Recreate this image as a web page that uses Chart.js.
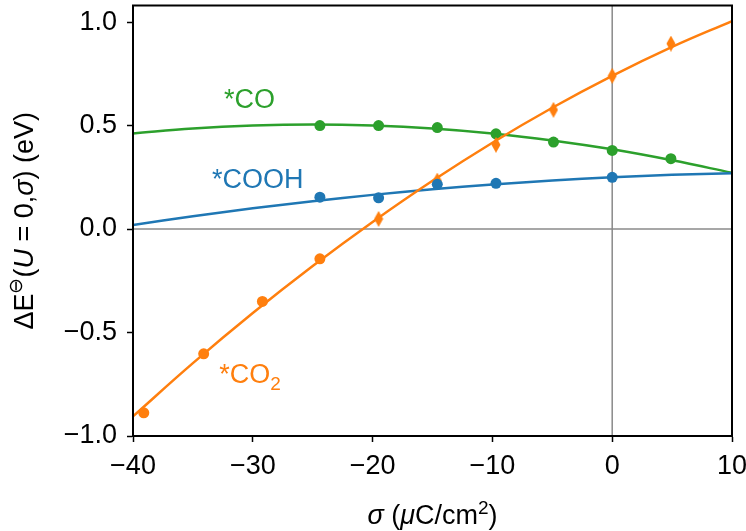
<!DOCTYPE html>
<html>
<head>
<meta charset="utf-8">
<script src="https://cdn.jsdelivr.net/npm/chart.js@4.4.1/dist/chart.umd.min.js"></script>
<style>
  body { margin: 0; background: #fff; }
  canvas { display: block; }
</style>
</head>
<body>
<canvas id="dE" width="746" height="531"></canvas>
<script>
// computed points (markers)
var sigmaCO = [-24.4, -19.5, -14.6, -9.7, -4.9, 0, 4.9];
var dECO = [0.50, 0.50, 0.49, 0.46, 0.42, 0.38, 0.34];
var sigmaCOOH = [-24.4, -19.5, -14.6, -9.7, 0];
var dECOOH = [0.154, 0.151, 0.216, 0.221, 0.25];
var sigmaCO2 = [-39.1, -34.1, -29.2, -24.4, -19.5, -14.6, -9.7, -4.9, 0, 4.9];
var dECO2 = [-0.888, -0.603, -0.35, -0.144, 0.049, 0.234, 0.407, 0.576, 0.74, 0.896];
var markerCO2 = ['o', 'o', 'o', 'o', 'd', 'd', 'd', 'd', 'd', 'd'];

// fitted curves
var fitSigma = [-40, -35, -30, -25, -20, -15, -10, -5, 0, 5, 10];
var fitCO = [0.462, 0.486, 0.500, 0.505, 0.500, 0.486, 0.462, 0.428, 0.385, 0.332, 0.272];
var fitCOOH = [0.02, 0.062, 0.10, 0.134, 0.165, 0.192, 0.215, 0.234, 0.25, 0.262, 0.27];
var fitCO2 = [-0.905, -0.648, -0.406, -0.179, 0.034, 0.233, 0.417, 0.586, 0.74, 0.88, 1.005];

var xTicks = [-40, -30, -20, -10, 0, 10];
var yTicks = [-1.0, -0.5, 0.0, 0.5, 1.0];

var BLUE = '#1f77b4', ORANGE = '#ff7f0e', GREEN = '#2ca02c';
var FONT = '"Liberation Sans", Arial, Helvetica, sans-serif';

function pts(xs, ys) {
  return xs.map(function (x, i) { return { x: x, y: ys[i] }; });
}
function minus(s) { return s.replace('-', '\u2212'); }

// thin diamond marker
var diamond = document.createElement('canvas');
diamond.width = 10; diamond.height = 16;
(function () {
  var c = diamond.getContext('2d');
  c.fillStyle = ORANGE;
  c.beginPath();
  c.moveTo(5, 0); c.lineTo(9.5, 8); c.lineTo(5, 16); c.lineTo(0.5, 8);
  c.closePath();
  c.fill();
})();

function runs(ctx, parts, x, y) {
  parts.forEach(function (p) {
    ctx.font = (p.it ? 'italic ' : '') + (p.size || 27) + 'px ' + FONT;
    ctx.fillText(p.t, x, y - (p.dy || 0));
    x += ctx.measureText(p.t).width;
  });
}
function runsWidth(ctx, parts) {
  var w = 0;
  parts.forEach(function (p) {
    ctx.font = (p.it ? 'italic ' : '') + (p.size || 27) + 'px ' + FONT;
    w += ctx.measureText(p.t).width;
  });
  return w;
}

var decor = {
  id: 'decor',
  beforeDatasetsDraw: function (chart) {
    var c = chart.ctx, a = chart.chartArea, sx = chart.scales.x, sy = chart.scales.y;
    c.save();
    c.strokeStyle = '#8a8a8a';
    c.lineWidth = 1.5;
    c.beginPath();
    var x0 = sx.getPixelForValue(0), y0 = sy.getPixelForValue(0);
    c.moveTo(x0, a.top); c.lineTo(x0, a.bottom);
    c.moveTo(a.left, y0); c.lineTo(a.right, y0);
    c.stroke();
    c.restore();
  },
  afterDatasetsDraw: function (chart) {
    var c = chart.ctx, a = chart.chartArea, sx = chart.scales.x, sy = chart.scales.y;
    c.save();
    c.strokeStyle = '#000';
    c.lineWidth = 2;
    c.strokeRect(a.left, a.top, a.right - a.left, a.bottom - a.top);

    // series labels
    c.textBaseline = 'middle';
    c.textAlign = 'left';
    c.fillStyle = GREEN;
    runs(c, [{ t: '*CO' }], sx.getPixelForValue(-32.4), sy.getPixelForValue(0.62));
    c.fillStyle = BLUE;
    runs(c, [{ t: '*COOH' }], sx.getPixelForValue(-33.4), sy.getPixelForValue(0.235));
    c.fillStyle = ORANGE;
    runs(c, [{ t: '*CO' }, { t: '2', size: 19, dy: -9 }], sx.getPixelForValue(-32.8), sy.getPixelForValue(-0.71));

    // axis titles
    c.fillStyle = '#000';
    c.textBaseline = 'alphabetic';
    var xt = [{ t: '\u03c3', it: true }, { t: ' (' }, { t: '\u03bc', it: true }, { t: 'C/cm' },
              { t: '2', size: 19, dy: 10 }, { t: ')' }];
    var cx = (a.left + a.right) / 2;
    runs(c, xt, cx - runsWidth(c, xt) / 2, 524);

    var yt = [{ t: '\u0394E' }, { t: '\u2296', size: 19, dy: 11 }, { t: '(' }, { t: 'U', it: true },
              { t: ' = 0,' }, { t: '\u03c3', it: true }, { t: ') (eV)' }];
    var cy = (a.top + a.bottom) / 2;
    c.translate(33, cy);
    c.rotate(-Math.PI / 2);
    runs(c, yt, -runsWidth(c, yt) / 2, 0);
    c.restore();
  }
};

var axisCommon = {
  type: 'linear',
  grid: { drawOnChartArea: false, drawTicks: true, tickLength: 6, tickColor: '#000', tickWidth: 1.5 },
  border: { display: true, color: '#000', width: 2 },
  title: { display: false }
};

var ctx = document.getElementById('dE');
var chart = new Chart(ctx, {
  type: 'scatter',
  data: {
    datasets: [
      { label: 'CO fit', data: pts(fitSigma, fitCO), showLine: true, borderColor: GREEN, borderWidth: 2.5,
        pointRadius: 0, tension: 0.4, order: 6 },
      { label: 'CO', data: pts(sigmaCO, dECO), showLine: false, backgroundColor: GREEN, borderColor: GREEN,
        pointRadius: 5.5, borderWidth: 0, order: 5 },
      { label: 'COOH fit', data: pts(fitSigma, fitCOOH), showLine: true, borderColor: BLUE, borderWidth: 2.5,
        pointRadius: 0, tension: 0.4, order: 4 },
      { label: 'CO2 fit', data: pts(fitSigma, fitCO2), showLine: true, borderColor: ORANGE, borderWidth: 2.5,
        pointRadius: 0, tension: 0.4, order: 3 },
      { label: 'CO2', data: pts(sigmaCO2, dECO2), showLine: false, backgroundColor: ORANGE, borderColor: ORANGE,
        pointRadius: 5.5, borderWidth: 0, order: 2,
        pointStyle: markerCO2.map(function (m) { return m === 'd' ? diamond : 'circle'; }) },
      { label: 'COOH', data: pts(sigmaCOOH, dECOOH), showLine: false, backgroundColor: BLUE, borderColor: BLUE,
        pointRadius: 5.5, borderWidth: 0, order: 1 }
    ]
  },
  options: {
    responsive: false,
    animation: false,
    events: [],
    layout: { padding: { left: 0, right: 14, top: 1, bottom: 0 } },
    plugins: { legend: { display: false }, tooltip: { enabled: false } },
    scales: {
      x: Object.assign({}, axisCommon, {
        min: -40, max: 10,
        afterBuildTicks: function (s) { s.ticks = xTicks.map(function (v) { return { value: v }; }); },
        afterFit: function (s) { s.height = 95; s.paddingLeft = 0; s.paddingRight = 0; },
        ticks: { color: '#000', padding: 8, font: { family: FONT, size: 27 },
                 callback: function (v) { return minus(String(v)); } }
      }),
      y: Object.assign({}, axisCommon, {
        min: -1.0, max: 1.08,
        afterBuildTicks: function (s) { s.ticks = yTicks.map(function (v) { return { value: v }; }); },
        afterFit: function (s) { s.width = 133; s.paddingTop = 0; s.paddingBottom = 0; },
        ticks: { color: '#000', padding: 10, font: { family: FONT, size: 27 },
                 callback: function (v) { return minus(v.toFixed(1)); } }
      })
    }
  },
  plugins: [decor]
});
</script>
</body>
</html>
